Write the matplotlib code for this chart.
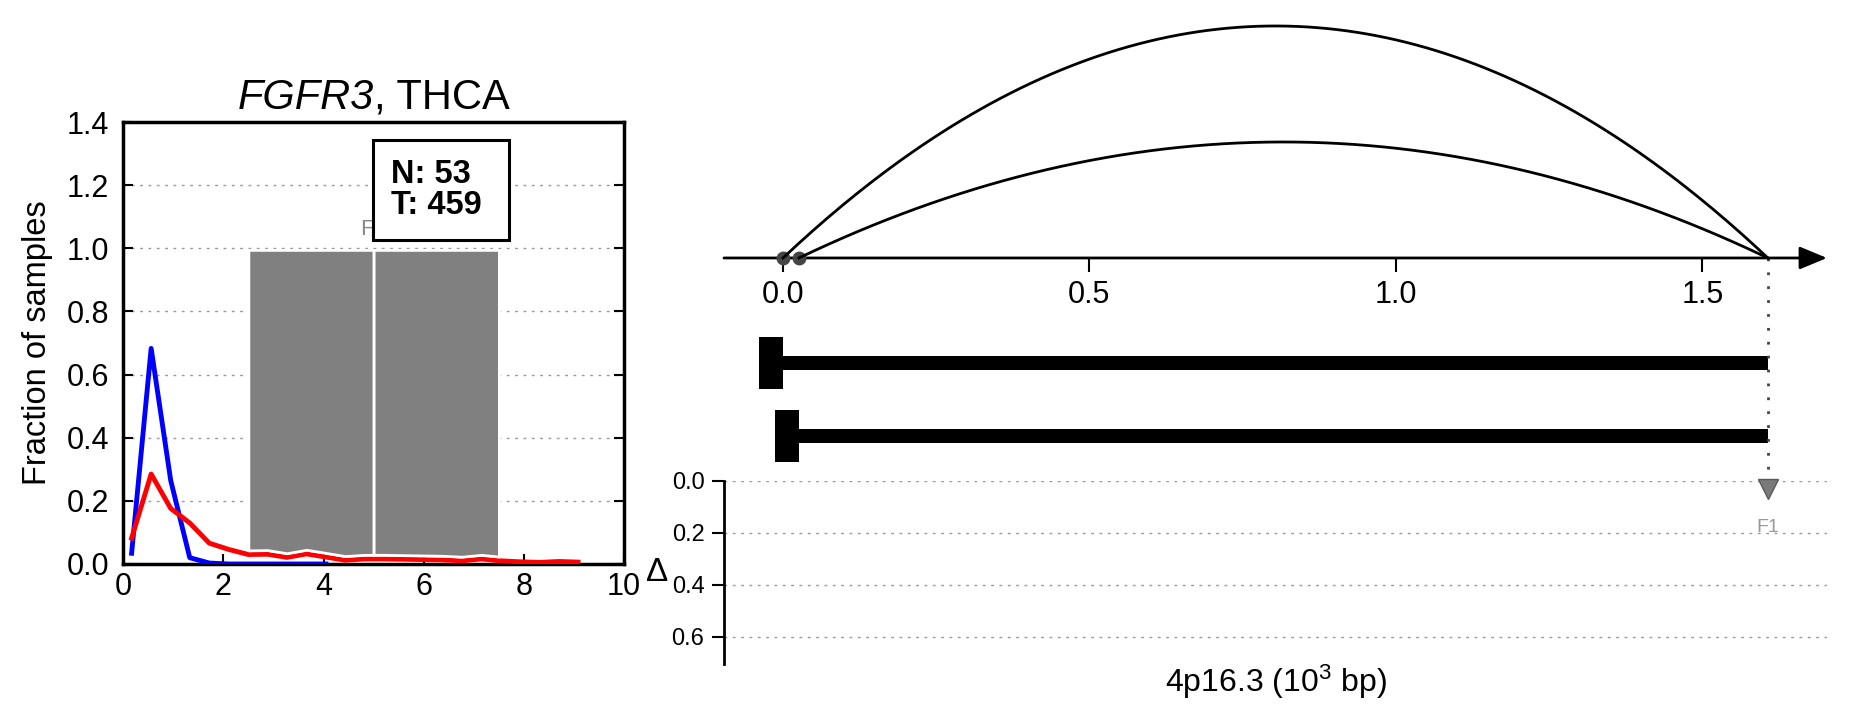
import matplotlib
matplotlib.use('Agg')
import matplotlib.pyplot as plt
import numpy as np

plt.rcParams['font.family'] = ['Liberation Sans', 'DejaVu Sans']
plt.rcParams['mathtext.fontset'] = 'custom'
plt.rcParams['mathtext.rm'] = 'Liberation Sans'
plt.rcParams['mathtext.it'] = 'Liberation Sans:italic'

# --- left panel: fraction of samples per bin ---
bin_x = [0.17, 0.56, 0.95, 1.33, 1.72, 2.11, 2.50, 2.88, 3.27, 3.66, 4.05, 4.43,
         4.82, 5.21, 5.60, 5.98, 6.37, 6.76, 7.15, 7.53, 7.92, 8.31, 8.70, 9.08]
normal_frac = [0.034, 0.683, 0.265, 0.020, 0.003, 0.0, 0.0, 0.0, 0.0, 0.0, 0.0]
tumor_frac = [0.082, 0.285, 0.176, 0.130, 0.066, 0.046, 0.030, 0.031, 0.021, 0.032,
              0.022, 0.012, 0.016, 0.016, 0.015, 0.014, 0.013, 0.010, 0.016, 0.010,
              0.007, 0.005, 0.008, 0.006]
n_normal = 53
n_tumor = 459
feature_left = [2.5, 5.0]   # grey bars
feature_width = 2.5
feature_top = 0.995
gene = 'FGFR3'
cohort = 'THCA'

# --- right panel: region 4p16.3 ---
region_len = 1.607          # 10^3 bp
arc_starts = [0.0, 0.026]
arc_ends = [1.607, 1.607]
arc_heights = [2.0, 1.0]
iso_starts = [0.0, 0.026]
iso_ends = [1.607, 1.607]
feat_pos = [1.607]
feat_delta = [0.03]
feat_names = ['F1']

fig = plt.figure(figsize=(18.51, 7.18), dpi=100)

# left axes
ax1 = fig.add_axes([0.0665, 0.2145, 0.2707, 0.6155])
ax1.plot(bin_x[:len(normal_frac)], normal_frac, color='#0000ff', lw=3.5, zorder=3)
ax1.plot(bin_x, tumor_frac, color='#ff0000', lw=3.5, zorder=4)
for e in feature_left:
    seg = [e] + [x for x in bin_x if e < x < e + feature_width] + [e + feature_width]
    bottom = np.interp(seg, bin_x, tumor_frac) + 0.013
    ax1.fill_between(seg, bottom, feature_top, facecolor='#808080',
                     edgecolor='white', lw=2, zorder=5)
ax1.text(5.0, 1.06, feat_names[0], color='#888888', fontsize=16, ha='center',
         va='center', zorder=2)
box = plt.Rectangle((4.99, 1.026), 2.71, 0.317, fc='white', ec='black', lw=2.2, zorder=6)
ax1.add_patch(box)
ax1.text(5.35, 1.185, 'N: %d\nT: %d' % (n_normal, n_tumor), fontsize=23.5,
         fontweight='bold', ha='left', va='center', linespacing=1.0, zorder=7)
ax1.set_xlim(0, 10)
ax1.set_ylim(0, 1.4)
ax1.set_xticks(range(0, 11, 2))
ax1.set_yticks(np.arange(0, 1.41, 0.2))
ax1.set_yticklabels(['%.1f' % v for v in np.arange(0, 1.41, 0.2)])
ax1.yaxis.grid(True, linestyle=(0, (2, 4)), color='#999999', lw=1)
ax1.set_axisbelow(True)
ax1.tick_params(direction='in', length=7, width=1.5, labelsize=22, right=True)
ax1.tick_params(axis='y', pad=10)
ax1.tick_params(axis='x', pad=6)
for s in ax1.spines.values():
    s.set_linewidth(2.5)
ax1.set_ylabel('Fraction of samples', fontsize=23.5)
ax1.yaxis.set_label_coords(-0.14, 0.5)

# title: italic gene name followed by cohort
t1 = ax1.text(0.5, 1.03, gene, transform=ax1.transAxes, fontsize=30, style='italic',
              ha='left', va='baseline')
t2 = ax1.annotate(', ' + cohort, xy=(1, 0), xycoords=t1, fontsize=30,
                  ha='left', va='bottom')
fig.canvas.draw()
r = fig.canvas.get_renderer()
w = t1.get_window_extent(r).width + t2.get_window_extent(r).width
t1.set_x(0.5 - w / 2 / ax1.get_window_extent(r).width)

# right: arcs and isoforms
xlo, xhi = -0.06 * region_len, 1.06 * region_len
ax2 = fig.add_axes([0.3911, 0.3305, 0.5959, 0.6695])
ax2.set_xlim(xlo, xhi)
ax2.set_ylim(-1.92, 2.224)
for s in ax2.spines.values():
    s.set_visible(False)
ax2.spines['bottom'].set_position(('data', 0))
ax2.set_yticks([])
ax2.set_xticks([0, 0.5, 1.0, 1.5])
ax2.set_xticklabels(['0.0', '0.5', '1.0', '1.5'])
ax2.tick_params(axis='x', direction='out', length=10, width=1.5, labelsize=22, pad=6)
ax2.annotate('', xy=(xhi, 0), xytext=(xlo, 0),
             arrowprops=dict(arrowstyle='-|>,head_length=1.2,head_width=0.5',
                             mutation_scale=14, lw=2, color='black',
                             shrinkA=0, shrinkB=0))
for x0, x1, h in zip(arc_starts, arc_ends, arc_heights):
    t = np.linspace(0, 1, 200)
    ax2.plot(x0 + t * (x1 - x0), 4 * h * t * (1 - t), color='black', lw=2, zorder=4)
ax2.plot(arc_starts, [0] * len(arc_starts), 'o', color='#444444', ms=9, zorder=3)
rows = [-0.905, -1.534]
ax2.barh(rows, np.array(iso_ends) - np.array(iso_starts), left=iso_starts,
         height=0.12, color='black')
ax2.barh(rows, 0.039, left=np.array(iso_starts) - 0.039, height=0.448, color='black')
for p in feat_pos:
    ax2.plot([p, p], [0, -1.92], color='#444444', lw=2, linestyle=(0, (1, 4)))

# right: delta track
ax3 = fig.add_axes([0.3911, 0.0752, 0.5959, 0.2553])
ax3.set_xlim(xlo, xhi)
ax3.set_ylim(0.705, 0)
for k in ['top', 'right', 'bottom']:
    ax3.spines[k].set_visible(False)
ax3.spines['left'].set_linewidth(2)
ax3.set_xticks([])
ax3.set_yticks([0, 0.2, 0.4, 0.6])
ax3.set_yticklabels(['0.0', '0.2', '0.4', '0.6'])
ax3.tick_params(axis='y', direction='out', length=9, width=1.5, labelsize=17, pad=5)
ax3.yaxis.grid(True, linestyle=(0, (2, 4)), color='#999999', lw=1)
ax3.plot(feat_pos, feat_delta, 'v', color='#7a7a7a', mec='#5a5a5a', ms=15, clip_on=False)
for p, name in zip(feat_pos, feat_names):
    ax3.text(p, 0.18, name, color='#999999', fontsize=14, ha='center', va='center')
ax3.text(-0.061, 0.5, r'$\Delta$', transform=ax3.transAxes, fontsize=24,
         ha='center', va='center')
ax3.text(0.5, -0.098, r'4p16.3 (10$^3$ bp)', transform=ax3.transAxes, fontsize=23,
         ha='center', va='center')

fig.savefig('out.png', dpi=100)
